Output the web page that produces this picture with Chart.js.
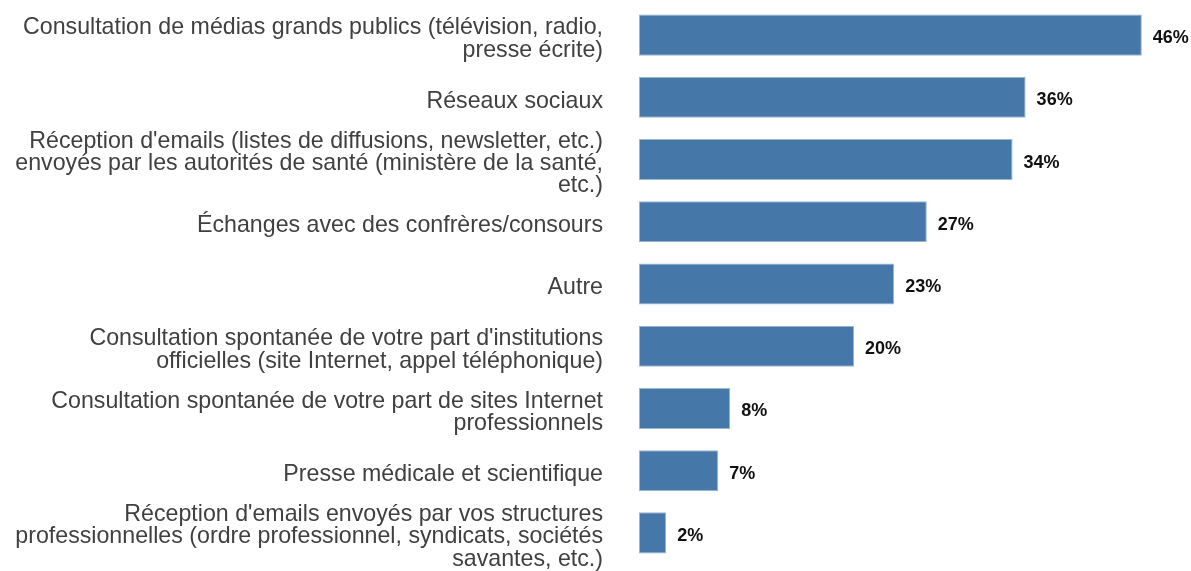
<!DOCTYPE html>
<html>
<head>
<meta charset="utf-8">
<script src="https://cdn.jsdelivr.net/npm/chart.js@4"></script>
<style>
  html, body { margin: 0; padding: 0; background: #ffffff; }
  #wrap { width: 1191px; height: 571px; }
</style>
</head>
<body>
<div id="wrap"><canvas id="c" width="1191" height="571"></canvas></div>
<script>
const categories = [
  ["Consultation de médias grands publics (télévision, radio,", "presse écrite)"],
  ["Réseaux sociaux"],
  ["Réception d'emails (listes de diffusions, newsletter, etc.)", "envoyés par les autorités de santé (ministère de la santé,", "etc.)"],
  ["Échanges avec des confrères/consours"],
  ["Autre"],
  ["Consultation spontanée de votre part d'institutions", "officielles (site Internet, appel téléphonique)"],
  ["Consultation spontanée de votre part de sites Internet", "professionnels"],
  ["Presse médicale et scientifique"],
  ["Réception d'emails envoyés par vos structures", "professionnelles (ordre professionnel, syndicats, sociétés", "savantes, etc.)"]
];
const values = [46.3, 35.6, 34.4, 26.5, 23.5, 19.8, 8.4, 7.3, 2.5];
const valueLabels = ["46%", "36%", "34%", "27%", "23%", "20%", "8%", "7%", "2%"];

const barLabelPlugin = {
  id: 'barLabels',
  afterDatasetsDraw(chart) {
    const ctx = chart.ctx;
    const meta = chart.getDatasetMeta(0);
    ctx.save();
    ctx.font = 'bold 18px "Liberation Sans", Arial, sans-serif';
    ctx.fillStyle = '#111111';
    ctx.textAlign = 'left';
    ctx.textBaseline = 'middle';
    meta.data.forEach((bar, i) => {
      ctx.fillText(valueLabels[i], bar.x + 11, bar.y + 3);
    });
    ctx.restore();
  }
};

new Chart(document.getElementById('c'), {
  type: 'bar',
  data: {
    labels: categories,
    datasets: [{
      data: values,
      backgroundColor: '#4577a8',
      borderColor: '#9cb6d0',
      borderWidth: 1,
      borderSkipped: false,
      barPercentage: 0.66,
      categoryPercentage: 1.0
    }]
  },
  options: {
    indexAxis: 'y',
    responsive: false,
    animation: false,
    layout: { padding: { left: 0, right: 9, top: 4, bottom: 7 } },
    plugins: {
      legend: { display: false },
      tooltip: { enabled: false }
    },
    scales: {
      x: {
        display: false,
        min: 0,
        max: 50
      },
      y: {
        grid: { display: false, drawTicks: false },
        border: { display: false },
        afterFit(scale) {
          scale.width = 639;
          scale.paddingTop = 0;
          scale.paddingBottom = 0;
        },
        ticks: {
          autoSkip: false,
          padding: 36,
          labelOffset: 4,
          color: '#404040',
          font: { family: '"Liberation Sans", Arial, sans-serif', size: 23.2, lineHeight: 0.96 }
        }
      }
    }
  },
  plugins: [barLabelPlugin]
});
</script>
</body>
</html>
